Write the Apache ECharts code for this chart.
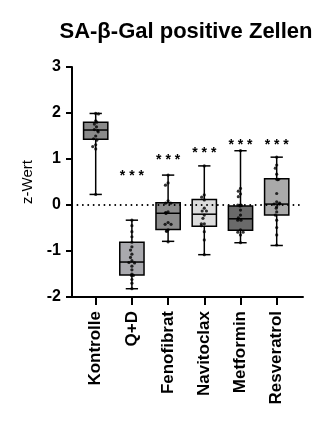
<!DOCTYPE html>
<html>
<head>
<meta charset="utf-8">
<script src="https://cdn.jsdelivr.net/npm/echarts@6/dist/echarts.min.js"></script>
<style>
  html, body { margin: 0; padding: 0; background: #fff; }
  #chart { width: 331px; height: 422px; }
</style>
</head>
<body>
<div id="chart"></div>
<script>
// Groups on the x axis
const categories = ['Kontrolle', 'Q+D', 'Fenofibrat', 'Navitoclax', 'Metformin', 'Resveratrol'];

// Box summaries per group (whiskers = min / max)
const whiskerMin = [0.23, -1.82, -0.79, -1.08, -0.82, -0.88];
const quartile1  = [1.43, -1.52, -0.53, -0.46, -0.55, -0.22];
const medians    = [1.63, -1.24, -0.18, -0.20, -0.30, 0.02];
const quartile3  = [1.80, -0.81, 0.05, 0.12, -0.02, 0.57];
const whiskerMax = [1.99, -0.33, 0.65, 0.85, 1.18, 1.04];

// Individual z values per group
const kontrolleValues = [1.99, 1.98, 1.83, 1.80, 1.76, 1.70, 1.64, 1.62, 1.59, 1.50, 1.44, 1.41, 1.31, 1.27, 1.22, 0.23];
const qdValues = [-0.33, -0.45, -0.58, -0.69, -0.81, -0.91, -0.98, -1.07, -1.14, -1.21, -1.25, -1.26, -1.33, -1.41, -1.50, -1.53, -1.53, -1.62, -1.70, -1.82];
const fenofibratValues = [0.65, 0.48, 0.43, 0.09, 0.04, 0.04, -0.15, -0.17, -0.17, -0.18, -0.38, -0.42, -0.42, -0.54, -0.57, -0.57, -0.80];
const navitoclaxValues = [0.85, 0.22, 0.17, 0.11, -0.07, -0.13, -0.13, -0.22, -0.29, -0.41, -0.41, -0.45, -0.58, -0.76, -1.08];
const metforminValues = [1.18, 0.36, 0.30, 0.24, 0.18, 0.0, 0.0, 0.0, -0.01, -0.02, -0.11, -0.22, -0.28, -0.33, -0.33, -0.54, -0.59, -0.59, -0.65, -0.82];
const resveratrolValues = [1.04, 0.87, 0.80, 0.67, 0.56, 0.56, 0.55, 0.25, 0.07, 0.04, 0.02, 0.02, -0.04, -0.07, -0.15, -0.22, -0.33, -0.49, -0.65, -0.87];
const groupValues = [kontrolleValues, qdValues, fenofibratValues, navitoclaxValues, metforminValues, resveratrolValues];

// Significance marks vs. Kontrolle and the height they sit at
const significance   = ['', '* * *', '* * *', '* * *', '* * *', '* * *'];
const significanceAt = [null, 0.72, 1.07, 1.21, 1.38, 1.38];

// Box fills
const boxFills = ['#8a8a8a', '#a9a9ae', '#8c8c8c', '#dcdcdc', '#6a6a6a', '#a9a9a9'];

const Y_MIN = -2, Y_MAX = 3;

const boxData = categories.map((c, i) => [i, whiskerMin[i], quartile1[i], medians[i], quartile3[i], whiskerMax[i]]);
const pointData = [];
groupValues.forEach((vals, i) => vals.forEach(v => pointData.push([i, v])));
const starData = categories.map((c, i) => [i, significanceAt[i] == null ? Y_MIN : significanceAt[i]]);

const FONT = 'Liberation Sans, Arial, sans-serif';

const chart = echarts.init(document.getElementById('chart'), null, { renderer: 'canvas' });

chart.setOption({
  animation: false,
  title: {
    text: 'SA-β-Gal positive Zellen',
    left: 181, top: 16, textAlign: 'center',
    textStyle: { fontFamily: FONT, fontWeight: 'bold', fontSize: 22, color: '#000' }
  },
  grid: [
    // bands for the groups
    { left: 77.6, right: 36.2, top: 67, bottom: 125 },
    // full-length axes frame
    { left: 72, right: 28, top: 67, bottom: 125 }
  ],
  xAxis: [
    {
      type: 'category', gridIndex: 0, data: categories,
      axisLine: { show: false, onZero: false },
      axisTick: { show: true, alignWithLabel: true, length: 8, lineStyle: { color: '#000', width: 2 } },
      axisLabel: {
        rotate: 90, margin: 14, interval: 0,
        fontFamily: FONT, fontWeight: 'bold', fontSize: 17, color: '#000'
      },
      jitter: 6, jitterOverlap: false, jitterMargin: 0.3
    },
    {
      type: 'value', gridIndex: 1, min: 0, max: 1,
      axisLine: { show: true, onZero: false, lineStyle: { color: '#000', width: 2 } },
      axisTick: { show: false }, axisLabel: { show: false }, splitLine: { show: false }
    }
  ],
  yAxis: [
    {
      type: 'value', gridIndex: 0, min: Y_MIN, max: Y_MAX, interval: 1,
      show: false, splitLine: { show: false }
    },
    {
      type: 'value', gridIndex: 1, min: Y_MIN, max: Y_MAX, interval: 1,
      name: 'z-Wert', nameLocation: 'middle', nameGap: 37,
      nameTextStyle: { fontFamily: FONT, fontSize: 15, color: '#000' },
      axisLine: { show: true, onZero: false, lineStyle: { color: '#000', width: 2 } },
      axisTick: { show: true, length: 6, lineStyle: { color: '#000', width: 2 } },
      axisLabel: { margin: 11, fontFamily: FONT, fontWeight: 'bold', fontSize: 16, color: '#000' },
      splitLine: { show: false }
    }
  ],
  series: [
    {
      // dotted reference line at z = 0
      type: 'line', xAxisIndex: 1, yAxisIndex: 1, data: [], z: 1,
      markLine: {
        silent: true, symbol: 'none', label: { show: false },
        lineStyle: { color: '#000', width: 1.8, type: [0.1, 5.3], cap: 'round' },
        data: [{ yAxis: 0 }]
      }
    },
    {
      type: 'custom', xAxisIndex: 0, yAxisIndex: 0, z: 2,
      data: boxData,
      renderItem: function (params, api) {
        const i = api.value(0);
        const band = api.size([1, 0])[0];
        const bw = band * 0.67, cw = band * 0.34;
        const pMin = api.coord([i, api.value(1)]);
        const pQ1 = api.coord([i, api.value(2)]);
        const pMed = api.coord([i, api.value(3)]);
        const pQ3 = api.coord([i, api.value(4)]);
        const pMax = api.coord([i, api.value(5)]);
        const cx = pMin[0];
        const stroke = { stroke: '#000', lineWidth: 1.5 };
        return {
          type: 'group',
          children: [
            { type: 'line', shape: { x1: cx, y1: pMax[1], x2: cx, y2: pMin[1] }, style: stroke },
            { type: 'line', shape: { x1: cx - cw / 2, y1: pMax[1], x2: cx + cw / 2, y2: pMax[1] }, style: stroke },
            { type: 'line', shape: { x1: cx - cw / 2, y1: pMin[1], x2: cx + cw / 2, y2: pMin[1] }, style: stroke },
            {
              type: 'rect',
              shape: { x: cx - bw / 2, y: pQ3[1], width: bw, height: pQ1[1] - pQ3[1] },
              style: { fill: boxFills[params.dataIndex], stroke: '#000', lineWidth: 1.5 }
            },
            { type: 'line', shape: { x1: cx - bw / 2, y1: pMed[1], x2: cx + bw / 2, y2: pMed[1] }, style: stroke }
          ]
        };
      }
    },
    {
      type: 'scatter', xAxisIndex: 0, yAxisIndex: 0, z: 3,
      data: pointData, symbol: 'circle', symbolSize: 3.2,
      itemStyle: { color: '#000' }
    },
    {
      type: 'custom', xAxisIndex: 0, yAxisIndex: 0, z: 4,
      data: starData,
      renderItem: function (params, api) {
        const txt = significance[params.dataIndex];
        if (!txt) return null;
        const p = api.coord([api.value(0), api.value(1)]);
        return {
          type: 'text',
          style: {
            x: p[0], y: p[1] + 4, text: txt,
            align: 'center', verticalAlign: 'middle',
            font: 'bold 14px ' + FONT, fill: '#000'
          }
        };
      }
    }
  ]
});
</script>
</body>
</html>
